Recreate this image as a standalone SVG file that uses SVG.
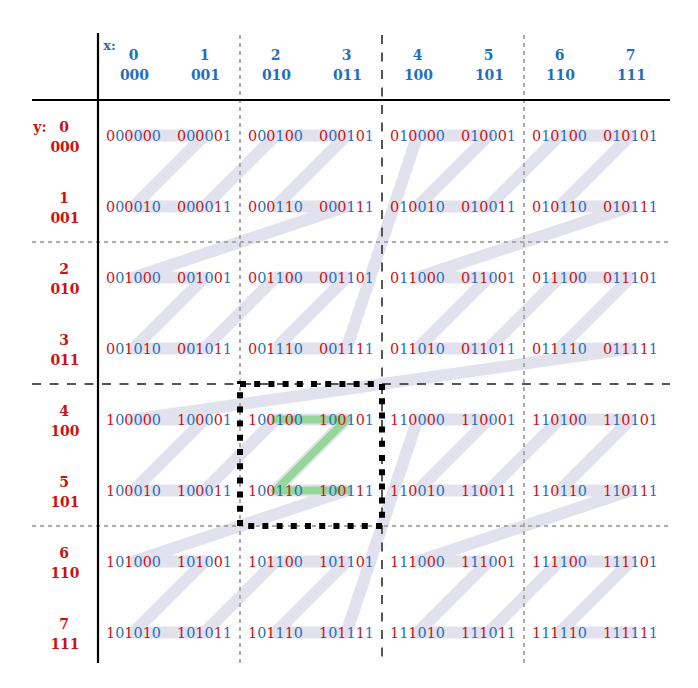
<svg xmlns="http://www.w3.org/2000/svg" width="698" height="688" viewBox="0 0 698 688">
<style>
text{font-family:"DejaVu Serif","Liberation Serif",serif;font-size:14px;text-anchor:middle}
.c{font-size:14.4px}
.c tspan:nth-child(odd){fill:#cc1111}
.c tspan:nth-child(even){fill:#1f6fbf}
.hx{fill:#1f6fbf;font-weight:bold}
.hy{fill:#cc1111;font-weight:bold}
.ax{stroke:#000;stroke-width:2.2;fill:none}
.dot{stroke:#aaaaaa;stroke-width:2;stroke-dasharray:4 4;fill:none}
.dash{stroke:#555555;stroke-width:2;stroke-dasharray:9 8.5;fill:none}
.curve{stroke:#e2e2ee;stroke-width:12;fill:none;stroke-linejoin:round;stroke-linecap:square}
.z{stroke:#96d69a;stroke-width:8;fill:none;stroke-linejoin:round;stroke-linecap:square}
.box{stroke:#000;stroke-width:6;stroke-dasharray:6 8.2;fill:none}
</style>
<g id="connectors">
<path class="curve" d="M133.5,135.5 L204.5,135.5 L133.5,206.5 L204.5,206.5 L275.5,135.5 L346.5,135.5 L275.5,206.5 L346.5,206.5 L133.5,277.5 L204.5,277.5 L133.5,348.5 L204.5,348.5 L275.5,277.5 L346.5,277.5 L275.5,348.5 L346.5,348.5 L417.5,135.5 L488.5,135.5 L417.5,206.5 L488.5,206.5 L559.5,135.5 L630.5,135.5 L559.5,206.5 L630.5,206.5 L417.5,277.5 L488.5,277.5 L417.5,348.5 L488.5,348.5 L559.5,277.5 L630.5,277.5 L559.5,348.5 L630.5,348.5 L133.5,419.5 L204.5,419.5 L133.5,490.5 L204.5,490.5 L275.5,419.5 L346.5,419.5 L275.5,490.5 L346.5,490.5 L133.5,561.5 L204.5,561.5 L133.5,632.5 L204.5,632.5 L275.5,561.5 L346.5,561.5 L275.5,632.5 L346.5,632.5 L417.5,419.5 L488.5,419.5 L417.5,490.5 L488.5,490.5 L559.5,419.5 L630.5,419.5 L559.5,490.5 L630.5,490.5 L417.5,561.5 L488.5,561.5 L417.5,632.5 L488.5,632.5 L559.5,561.5 L630.5,561.5 L559.5,632.5 L630.5,632.5"/>
<path class="z" d="M275.5,419.5 L346.5,419.5 L275.5,490.5 L346.5,490.5"/>
</g>
<g id="grid">
<path class="dot" d="M240,35 V663 M524,35 V663 M32,242 H670 M32,526 H670"/>
<path class="dash" d="M382,35 V663 M32,384 H670"/>
<path class="ax" d="M98,33 V663 M32,100 H670"/>
</g>
<g id="highlight">
<rect class="box" x="240" y="384" width="142" height="142"/>
</g>
<g id="col-headers">
<text class="hx" x="109.5" y="50" style="font-size:13px">x:</text>
<g id="col0"><text class="hx" x="133.5" y="60">0</text><text class="hx" x="134.5" y="80">000</text></g>
<g id="col1"><text class="hx" x="204.5" y="60">1</text><text class="hx" x="205.5" y="80">001</text></g>
<g id="col2"><text class="hx" x="275.5" y="60">2</text><text class="hx" x="276.5" y="80">010</text></g>
<g id="col3"><text class="hx" x="346.5" y="60">3</text><text class="hx" x="347.5" y="80">011</text></g>
<g id="col4"><text class="hx" x="417.5" y="60">4</text><text class="hx" x="418.5" y="80">100</text></g>
<g id="col5"><text class="hx" x="488.5" y="60">5</text><text class="hx" x="489.5" y="80">101</text></g>
<g id="col6"><text class="hx" x="559.5" y="60">6</text><text class="hx" x="560.5" y="80">110</text></g>
<g id="col7"><text class="hx" x="630.5" y="60">7</text><text class="hx" x="631.5" y="80">111</text></g>
</g>
<g id="row-headers">
<text class="hy" x="40" y="132">y:</text>
<g id="row0"><text class="hy" x="64" y="132">0</text><text class="hy" x="65" y="152">000</text></g>
<g id="row1"><text class="hy" x="64" y="203">1</text><text class="hy" x="65" y="223">001</text></g>
<g id="row2"><text class="hy" x="64" y="274">2</text><text class="hy" x="65" y="294">010</text></g>
<g id="row3"><text class="hy" x="64" y="345">3</text><text class="hy" x="65" y="365">011</text></g>
<g id="row4"><text class="hy" x="64" y="416">4</text><text class="hy" x="65" y="436">100</text></g>
<g id="row5"><text class="hy" x="64" y="487">5</text><text class="hy" x="65" y="507">101</text></g>
<g id="row6"><text class="hy" x="64" y="558">6</text><text class="hy" x="65" y="578">110</text></g>
<g id="row7"><text class="hy" x="64" y="629">7</text><text class="hy" x="65" y="649">111</text></g>
</g>
<g id="cells">
<g id="c000000"><text class="c" x="133.5" y="141"><tspan>0</tspan><tspan>0</tspan><tspan>0</tspan><tspan>0</tspan><tspan>0</tspan><tspan>0</tspan></text></g>
<g id="c000001"><text class="c" x="204.5" y="141"><tspan>0</tspan><tspan>0</tspan><tspan>0</tspan><tspan>0</tspan><tspan>0</tspan><tspan>1</tspan></text></g>
<g id="c000100"><text class="c" x="275.5" y="141"><tspan>0</tspan><tspan>0</tspan><tspan>0</tspan><tspan>1</tspan><tspan>0</tspan><tspan>0</tspan></text></g>
<g id="c000101"><text class="c" x="346.5" y="141"><tspan>0</tspan><tspan>0</tspan><tspan>0</tspan><tspan>1</tspan><tspan>0</tspan><tspan>1</tspan></text></g>
<g id="c010000"><text class="c" x="417.5" y="141"><tspan>0</tspan><tspan>1</tspan><tspan>0</tspan><tspan>0</tspan><tspan>0</tspan><tspan>0</tspan></text></g>
<g id="c010001"><text class="c" x="488.5" y="141"><tspan>0</tspan><tspan>1</tspan><tspan>0</tspan><tspan>0</tspan><tspan>0</tspan><tspan>1</tspan></text></g>
<g id="c010100"><text class="c" x="559.5" y="141"><tspan>0</tspan><tspan>1</tspan><tspan>0</tspan><tspan>1</tspan><tspan>0</tspan><tspan>0</tspan></text></g>
<g id="c010101"><text class="c" x="630.5" y="141"><tspan>0</tspan><tspan>1</tspan><tspan>0</tspan><tspan>1</tspan><tspan>0</tspan><tspan>1</tspan></text></g>

<g id="c000010"><text class="c" x="133.5" y="212"><tspan>0</tspan><tspan>0</tspan><tspan>0</tspan><tspan>0</tspan><tspan>1</tspan><tspan>0</tspan></text></g>
<g id="c000011"><text class="c" x="204.5" y="212"><tspan>0</tspan><tspan>0</tspan><tspan>0</tspan><tspan>0</tspan><tspan>1</tspan><tspan>1</tspan></text></g>
<g id="c000110"><text class="c" x="275.5" y="212"><tspan>0</tspan><tspan>0</tspan><tspan>0</tspan><tspan>1</tspan><tspan>1</tspan><tspan>0</tspan></text></g>
<g id="c000111"><text class="c" x="346.5" y="212"><tspan>0</tspan><tspan>0</tspan><tspan>0</tspan><tspan>1</tspan><tspan>1</tspan><tspan>1</tspan></text></g>
<g id="c010010"><text class="c" x="417.5" y="212"><tspan>0</tspan><tspan>1</tspan><tspan>0</tspan><tspan>0</tspan><tspan>1</tspan><tspan>0</tspan></text></g>
<g id="c010011"><text class="c" x="488.5" y="212"><tspan>0</tspan><tspan>1</tspan><tspan>0</tspan><tspan>0</tspan><tspan>1</tspan><tspan>1</tspan></text></g>
<g id="c010110"><text class="c" x="559.5" y="212"><tspan>0</tspan><tspan>1</tspan><tspan>0</tspan><tspan>1</tspan><tspan>1</tspan><tspan>0</tspan></text></g>
<g id="c010111"><text class="c" x="630.5" y="212"><tspan>0</tspan><tspan>1</tspan><tspan>0</tspan><tspan>1</tspan><tspan>1</tspan><tspan>1</tspan></text></g>

<g id="c001000"><text class="c" x="133.5" y="283"><tspan>0</tspan><tspan>0</tspan><tspan>1</tspan><tspan>0</tspan><tspan>0</tspan><tspan>0</tspan></text></g>
<g id="c001001"><text class="c" x="204.5" y="283"><tspan>0</tspan><tspan>0</tspan><tspan>1</tspan><tspan>0</tspan><tspan>0</tspan><tspan>1</tspan></text></g>
<g id="c001100"><text class="c" x="275.5" y="283"><tspan>0</tspan><tspan>0</tspan><tspan>1</tspan><tspan>1</tspan><tspan>0</tspan><tspan>0</tspan></text></g>
<g id="c001101"><text class="c" x="346.5" y="283"><tspan>0</tspan><tspan>0</tspan><tspan>1</tspan><tspan>1</tspan><tspan>0</tspan><tspan>1</tspan></text></g>
<g id="c011000"><text class="c" x="417.5" y="283"><tspan>0</tspan><tspan>1</tspan><tspan>1</tspan><tspan>0</tspan><tspan>0</tspan><tspan>0</tspan></text></g>
<g id="c011001"><text class="c" x="488.5" y="283"><tspan>0</tspan><tspan>1</tspan><tspan>1</tspan><tspan>0</tspan><tspan>0</tspan><tspan>1</tspan></text></g>
<g id="c011100"><text class="c" x="559.5" y="283"><tspan>0</tspan><tspan>1</tspan><tspan>1</tspan><tspan>1</tspan><tspan>0</tspan><tspan>0</tspan></text></g>
<g id="c011101"><text class="c" x="630.5" y="283"><tspan>0</tspan><tspan>1</tspan><tspan>1</tspan><tspan>1</tspan><tspan>0</tspan><tspan>1</tspan></text></g>

<g id="c001010"><text class="c" x="133.5" y="354"><tspan>0</tspan><tspan>0</tspan><tspan>1</tspan><tspan>0</tspan><tspan>1</tspan><tspan>0</tspan></text></g>
<g id="c001011"><text class="c" x="204.5" y="354"><tspan>0</tspan><tspan>0</tspan><tspan>1</tspan><tspan>0</tspan><tspan>1</tspan><tspan>1</tspan></text></g>
<g id="c001110"><text class="c" x="275.5" y="354"><tspan>0</tspan><tspan>0</tspan><tspan>1</tspan><tspan>1</tspan><tspan>1</tspan><tspan>0</tspan></text></g>
<g id="c001111"><text class="c" x="346.5" y="354"><tspan>0</tspan><tspan>0</tspan><tspan>1</tspan><tspan>1</tspan><tspan>1</tspan><tspan>1</tspan></text></g>
<g id="c011010"><text class="c" x="417.5" y="354"><tspan>0</tspan><tspan>1</tspan><tspan>1</tspan><tspan>0</tspan><tspan>1</tspan><tspan>0</tspan></text></g>
<g id="c011011"><text class="c" x="488.5" y="354"><tspan>0</tspan><tspan>1</tspan><tspan>1</tspan><tspan>0</tspan><tspan>1</tspan><tspan>1</tspan></text></g>
<g id="c011110"><text class="c" x="559.5" y="354"><tspan>0</tspan><tspan>1</tspan><tspan>1</tspan><tspan>1</tspan><tspan>1</tspan><tspan>0</tspan></text></g>
<g id="c011111"><text class="c" x="630.5" y="354"><tspan>0</tspan><tspan>1</tspan><tspan>1</tspan><tspan>1</tspan><tspan>1</tspan><tspan>1</tspan></text></g>

<g id="c100000"><text class="c" x="133.5" y="425"><tspan>1</tspan><tspan>0</tspan><tspan>0</tspan><tspan>0</tspan><tspan>0</tspan><tspan>0</tspan></text></g>
<g id="c100001"><text class="c" x="204.5" y="425"><tspan>1</tspan><tspan>0</tspan><tspan>0</tspan><tspan>0</tspan><tspan>0</tspan><tspan>1</tspan></text></g>
<g id="c100100"><text class="c" x="275.5" y="425"><tspan>1</tspan><tspan>0</tspan><tspan>0</tspan><tspan>1</tspan><tspan>0</tspan><tspan>0</tspan></text></g>
<g id="c100101"><text class="c" x="346.5" y="425"><tspan>1</tspan><tspan>0</tspan><tspan>0</tspan><tspan>1</tspan><tspan>0</tspan><tspan>1</tspan></text></g>
<g id="c110000"><text class="c" x="417.5" y="425"><tspan>1</tspan><tspan>1</tspan><tspan>0</tspan><tspan>0</tspan><tspan>0</tspan><tspan>0</tspan></text></g>
<g id="c110001"><text class="c" x="488.5" y="425"><tspan>1</tspan><tspan>1</tspan><tspan>0</tspan><tspan>0</tspan><tspan>0</tspan><tspan>1</tspan></text></g>
<g id="c110100"><text class="c" x="559.5" y="425"><tspan>1</tspan><tspan>1</tspan><tspan>0</tspan><tspan>1</tspan><tspan>0</tspan><tspan>0</tspan></text></g>
<g id="c110101"><text class="c" x="630.5" y="425"><tspan>1</tspan><tspan>1</tspan><tspan>0</tspan><tspan>1</tspan><tspan>0</tspan><tspan>1</tspan></text></g>

<g id="c100010"><text class="c" x="133.5" y="496"><tspan>1</tspan><tspan>0</tspan><tspan>0</tspan><tspan>0</tspan><tspan>1</tspan><tspan>0</tspan></text></g>
<g id="c100011"><text class="c" x="204.5" y="496"><tspan>1</tspan><tspan>0</tspan><tspan>0</tspan><tspan>0</tspan><tspan>1</tspan><tspan>1</tspan></text></g>
<g id="c100110"><text class="c" x="275.5" y="496"><tspan>1</tspan><tspan>0</tspan><tspan>0</tspan><tspan>1</tspan><tspan>1</tspan><tspan>0</tspan></text></g>
<g id="c100111"><text class="c" x="346.5" y="496"><tspan>1</tspan><tspan>0</tspan><tspan>0</tspan><tspan>1</tspan><tspan>1</tspan><tspan>1</tspan></text></g>
<g id="c110010"><text class="c" x="417.5" y="496"><tspan>1</tspan><tspan>1</tspan><tspan>0</tspan><tspan>0</tspan><tspan>1</tspan><tspan>0</tspan></text></g>
<g id="c110011"><text class="c" x="488.5" y="496"><tspan>1</tspan><tspan>1</tspan><tspan>0</tspan><tspan>0</tspan><tspan>1</tspan><tspan>1</tspan></text></g>
<g id="c110110"><text class="c" x="559.5" y="496"><tspan>1</tspan><tspan>1</tspan><tspan>0</tspan><tspan>1</tspan><tspan>1</tspan><tspan>0</tspan></text></g>
<g id="c110111"><text class="c" x="630.5" y="496"><tspan>1</tspan><tspan>1</tspan><tspan>0</tspan><tspan>1</tspan><tspan>1</tspan><tspan>1</tspan></text></g>

<g id="c101000"><text class="c" x="133.5" y="567"><tspan>1</tspan><tspan>0</tspan><tspan>1</tspan><tspan>0</tspan><tspan>0</tspan><tspan>0</tspan></text></g>
<g id="c101001"><text class="c" x="204.5" y="567"><tspan>1</tspan><tspan>0</tspan><tspan>1</tspan><tspan>0</tspan><tspan>0</tspan><tspan>1</tspan></text></g>
<g id="c101100"><text class="c" x="275.5" y="567"><tspan>1</tspan><tspan>0</tspan><tspan>1</tspan><tspan>1</tspan><tspan>0</tspan><tspan>0</tspan></text></g>
<g id="c101101"><text class="c" x="346.5" y="567"><tspan>1</tspan><tspan>0</tspan><tspan>1</tspan><tspan>1</tspan><tspan>0</tspan><tspan>1</tspan></text></g>
<g id="c111000"><text class="c" x="417.5" y="567"><tspan>1</tspan><tspan>1</tspan><tspan>1</tspan><tspan>0</tspan><tspan>0</tspan><tspan>0</tspan></text></g>
<g id="c111001"><text class="c" x="488.5" y="567"><tspan>1</tspan><tspan>1</tspan><tspan>1</tspan><tspan>0</tspan><tspan>0</tspan><tspan>1</tspan></text></g>
<g id="c111100"><text class="c" x="559.5" y="567"><tspan>1</tspan><tspan>1</tspan><tspan>1</tspan><tspan>1</tspan><tspan>0</tspan><tspan>0</tspan></text></g>
<g id="c111101"><text class="c" x="630.5" y="567"><tspan>1</tspan><tspan>1</tspan><tspan>1</tspan><tspan>1</tspan><tspan>0</tspan><tspan>1</tspan></text></g>

<g id="c101010"><text class="c" x="133.5" y="638"><tspan>1</tspan><tspan>0</tspan><tspan>1</tspan><tspan>0</tspan><tspan>1</tspan><tspan>0</tspan></text></g>
<g id="c101011"><text class="c" x="204.5" y="638"><tspan>1</tspan><tspan>0</tspan><tspan>1</tspan><tspan>0</tspan><tspan>1</tspan><tspan>1</tspan></text></g>
<g id="c101110"><text class="c" x="275.5" y="638"><tspan>1</tspan><tspan>0</tspan><tspan>1</tspan><tspan>1</tspan><tspan>1</tspan><tspan>0</tspan></text></g>
<g id="c101111"><text class="c" x="346.5" y="638"><tspan>1</tspan><tspan>0</tspan><tspan>1</tspan><tspan>1</tspan><tspan>1</tspan><tspan>1</tspan></text></g>
<g id="c111010"><text class="c" x="417.5" y="638"><tspan>1</tspan><tspan>1</tspan><tspan>1</tspan><tspan>0</tspan><tspan>1</tspan><tspan>0</tspan></text></g>
<g id="c111011"><text class="c" x="488.5" y="638"><tspan>1</tspan><tspan>1</tspan><tspan>1</tspan><tspan>0</tspan><tspan>1</tspan><tspan>1</tspan></text></g>
<g id="c111110"><text class="c" x="559.5" y="638"><tspan>1</tspan><tspan>1</tspan><tspan>1</tspan><tspan>1</tspan><tspan>1</tspan><tspan>0</tspan></text></g>
<g id="c111111"><text class="c" x="630.5" y="638"><tspan>1</tspan><tspan>1</tspan><tspan>1</tspan><tspan>1</tspan><tspan>1</tspan><tspan>1</tspan></text></g>
</g>
</svg>
